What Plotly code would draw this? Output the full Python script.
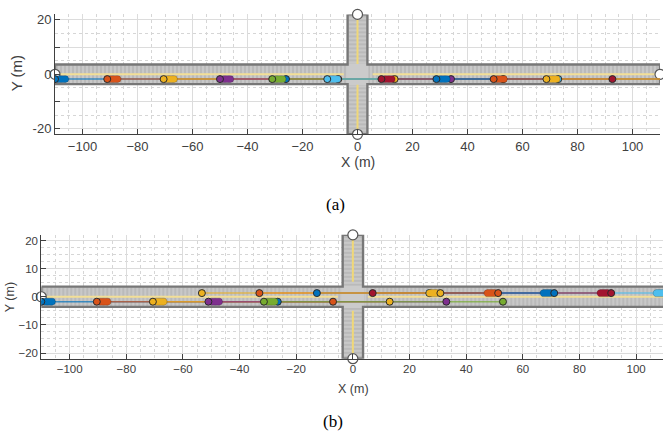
import plotly.graph_objects as go
import numpy as np

BLUE = '#0072BD'; ORANGE = '#D95319'; YELLOW = '#EDB120'; PURPLE = '#7E2F8E'
GREEN = '#77AC30'; CYAN = '#4DBEEE'; RED = '#A2142F'

# ---------------- data ----------------
# road geometry (m)
road_half_len = 110
road_half_vert = 22
road_half_width = 3.6
road_end_x = [-110, 110, 0, 0]
road_end_y = [0, 0, 22, -22]

# panel (a): all vehicles east-bound in the lower lane
a_lane_y = -1.75
a_rear_x = [-110, -91, -70.5, -50, -31, -11, 8.7, 28.7, 49.5, 68.7]
a_dest_x = [-26, -7, 13.5, 34, 53, 73, 92.7, 112.7, 133.5, 152.7]
a_colors = [BLUE, ORANGE, YELLOW, PURPLE, GREEN, CYAN, RED, BLUE, ORANGE, YELLOW]
a_centre_gap = [-5.0, 5.5]      # horizontal yellow line break
a_vert_gap = [-3.8, 3.8]        # vertical yellow line break

# panel (b): lower lane east-bound, upper lane west-bound
b_low_y = -1.75
b_low_rear = [-110, -90.4, -70.6, -51, -31.4]
b_low_dest = [-26.5, -7, 13, 33, 53]
b_low_colors = [BLUE, ORANGE, YELLOW, PURPLE, GREEN]
b_up_y = 1.3
b_up_rear = [111, 91.2, 71.1, 51.3, 30.9]
b_up_dest = [27, 7, -12.7, -33, -53.3]
b_up_colors = [CYAN, RED, BLUE, ORANGE, YELLOW]
b_centre_gap = [-5.3, 5.3]
b_vert_gap = [-5.0, 5.3]

car_len = 5.0
car_wid = 2.5

fig = go.Figure()


def rrect(xr, d, yc, L=car_len, W=car_wid, r=1.1):
    x0, x1 = sorted([xr, xr + d * L])
    y0, y1 = yc - W / 2, yc + W / 2
    pts = []
    corners = [(x1 - r, y1 - r, 0), (x0 + r, y1 - r, 90), (x0 + r, y0 + r, 180), (x1 - r, y0 + r, 270)]
    for cx, cy, a0 in corners:
        for a in np.linspace(a0, a0 + 90, 7):
            t = np.deg2rad(a)
            pts.append((cx + r * np.cos(t), cy + r * np.sin(t)))
    pts.append(pts[0])
    return [p[0] for p in pts], [p[1] for p in pts]


def add_road(xa, ya, cgap, vgap):
    H, V, w = road_half_len, road_half_vert, road_half_width
    cx = [-H, -w, -w, w, w, H, H, w, w, -w, -w, -H, -H]
    cy = [w, w, V, V, w, w, -w, -w, -V, -V, -w, -w, w]
    fig.add_trace(go.Scatter(x=cx, y=cy, mode='lines', fill='toself', fillcolor='#cbcbcb',
                             line=dict(width=0), xaxis=xa, yaxis=ya, hoverinfo='skip', showlegend=False))
    ins = 0.35
    segs = [([-H, -w - ins, -w - ins, -H, -H], [w - ins, w - ins, -w + ins, -w + ins, w - ins], '|'),
            ([w + ins, H, H, w + ins, w + ins], [w - ins, w - ins, -w + ins, -w + ins, w - ins], '|'),
            ([-w + ins, w - ins, w - ins, -w + ins, -w + ins], [V, V, w + ins, w + ins, V], '-'),
            ([-w + ins, w - ins, w - ins, -w + ins, -w + ins], [-w - ins, -w - ins, -V, -V, -w - ins], '-')]
    for sx, sy, sh in segs:
        fig.add_trace(go.Scatter(x=sx, y=sy, mode='lines', fill='toself', fillcolor='#c6c6c6',
                                 fillpattern=dict(shape=sh, fgcolor='#adadad', bgcolor='#c8c8c8',
                                                  size=4, solidity=0.25, fillmode='replace'),
                                 line=dict(width=0), xaxis=xa, yaxis=ya, hoverinfo='skip', showlegend=False))
    fig.add_trace(go.Scatter(x=cx, y=cy, mode='lines', line=dict(color='#777777', width=2.4),
                             xaxis=xa, yaxis=ya, hoverinfo='skip', showlegend=False, cliponaxis=True))
    # centre lines
    yl = '#f3df96'
    fig.add_trace(go.Scatter(x=[-H, cgap[0], None, cgap[1], H], y=[0, 0, None, 0, 0], mode='lines',
                             line=dict(color=yl, width=2), xaxis=xa, yaxis=ya, hoverinfo='skip', showlegend=False))
    fig.add_trace(go.Scatter(x=[0, 0, None, 0, 0], y=[V, vgap[1], None, vgap[0], -V], mode='lines',
                             line=dict(color='#f0d878', width=2), xaxis=xa, yaxis=ya, hoverinfo='skip', showlegend=False))


def add_vehicles(xa, ya, rear, dest, colors, yc):
    for xr, xd, c in zip(rear, dest, colors):
        fig.add_trace(go.Scatter(x=[xr, xd], y=[yc, yc], mode='lines', line=dict(color=c, width=1.5),
                                 opacity=0.7, xaxis=xa, yaxis=ya, hoverinfo='skip', showlegend=False))
    fig.add_trace(go.Scatter(x=dest, y=[yc] * len(dest), mode='markers',
                             marker=dict(size=7, color=colors, line=dict(color='#2a2a2a', width=1)),
                             xaxis=xa, yaxis=ya, hoverinfo='skip', showlegend=False))
    for xr, xd, c in zip(rear, dest, colors):
        d = 1 if xd > xr else -1
        rx, ry = rrect(xr, d, yc)
        fig.add_trace(go.Scatter(x=rx, y=ry, mode='lines', fill='toself', fillcolor=c,
                                 line=dict(color='rgba(0,0,0,0.25)', width=0.8),
                                 xaxis=xa, yaxis=ya, hoverinfo='skip', showlegend=False))
    fig.add_trace(go.Scatter(x=rear, y=[yc] * len(rear), mode='markers',
                             marker=dict(size=7, color=colors, line=dict(color='#2a2a2a', width=1)),
                             xaxis=xa, yaxis=ya, hoverinfo='skip', showlegend=False))


def add_road_ends(xa, ya):
    fig.add_trace(go.Scatter(x=road_end_x, y=road_end_y, mode='markers', cliponaxis=False,
                             marker=dict(size=10, color='white', line=dict(color='#555555', width=1.2)),
                             xaxis=xa, yaxis=ya, hoverinfo='skip', showlegend=False))


# panel (a)
add_road('x', 'y', a_centre_gap, a_vert_gap)
add_road_ends('x', 'y')
add_vehicles('x', 'y', a_rear_x, a_dest_x, a_colors, a_lane_y)

# panel (b)
add_road('x2', 'y2', b_centre_gap, b_vert_gap)
add_road_ends('x2', 'y2')
add_vehicles('x2', 'y2', b_low_rear, b_low_dest, b_low_colors, b_low_y)
add_vehicles('x2', 'y2', b_up_rear, b_up_dest, b_up_colors, b_up_y)

W, Hh = 663, 435
TXT = '#404040'
FONT = 'Liberation Sans, Arial, Helvetica, sans-serif'


def ax(size, minor_dtick, **kw):
    d = dict(showline=True, linecolor=TXT, linewidth=1, ticks='inside', ticklen=5, tickcolor=TXT,
             showgrid=True, gridcolor='#dcdcdc', gridwidth=1, zeroline=False, mirror=False,
             tickfont=dict(family=FONT, size=size, color=TXT),
             minor=dict(showgrid=True, gridcolor='#d6d6d6', griddash='dot', gridwidth=1,
                        dtick=minor_dtick, tick0=0, ticks=''))
    d.update(kw)
    return d


fig.update_layout(
    width=W, height=Hh, margin=dict(l=0, r=0, t=0, b=0),
    paper_bgcolor='white', plot_bgcolor='white', showlegend=False,
    xaxis=ax(13, 5, domain=[55 / W, 660 / W], range=[-110, 110], dtick=20, tick0=0, anchor='y'),
    yaxis=ax(13, 5, domain=[1 - 133.5 / Hh, 1 - 12.5 / Hh], range=[-22, 22],
             tickmode='array', tickvals=[-20, -10, 0, 10, 20], ticktext=['-20', '', '0', '', '20'], anchor='x'),
    xaxis2=ax(11.5, 5, domain=[41.3 / W, 1.0], range=[-110, 109.5], dtick=20, tick0=0, anchor='y2'),
    yaxis2=ax(11.5, 2.5, domain=[1 - 360 / Hh, 1 - 235 / Hh], range=[-22, 22], dtick=10, tick0=0, anchor='x2'),
)

ann = [
    dict(text='X (m)', x=358 / W, y=1 - 161 / Hh, font=dict(family=FONT, size=14, color=TXT)),
    dict(text='Y (m)', x=16 / W, y=1 - 72 / Hh, textangle=-90, font=dict(family=FONT, size=15, color=TXT)),
    dict(text='(a)', x=335 / W, y=1 - 204 / Hh, font=dict(family='Liberation Serif, Times New Roman, serif', size=17, color='black')),
    dict(text='X (m)', x=353 / W, y=1 - 391 / Hh, font=dict(family=FONT, size=12.5, color=TXT)),
    dict(text='Y (m)', x=10 / W, y=1 - 298 / Hh, textangle=-90, font=dict(family=FONT, size=12.5, color=TXT)),
    dict(text='(b)', x=333 / W, y=1 - 423 / Hh, font=dict(family='Liberation Serif, Times New Roman, serif', size=17, color='black')),
]
for a in ann:
    a.update(xref='paper', yref='paper', showarrow=False, xanchor='center', yanchor='middle')
fig.update_layout(annotations=ann)

fig.write_html('out.html', config={'displayModeBar': False},
               post_script="document.body.style.margin='0';document.body.style.overflow='hidden';")
